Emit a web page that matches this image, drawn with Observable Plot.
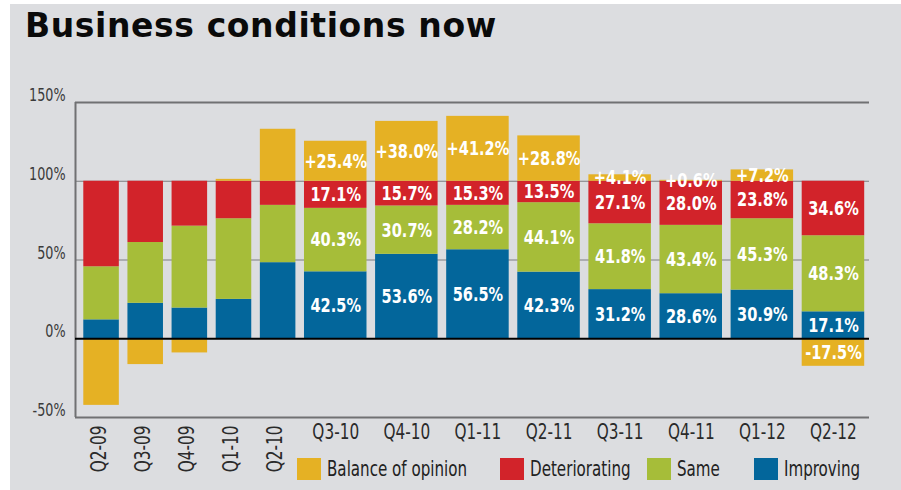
<!DOCTYPE html>
<html>
<head>
<meta charset="utf-8">
<script src="https://cdn.jsdelivr.net/npm/d3@7"></script>
<script src="https://cdn.jsdelivr.net/npm/@observablehq/plot@0.6"></script>
<style>
  html, body { margin: 0; padding: 0; background: #fff; }
  #wrap { position: relative; width: 901px; height: 490px; overflow: hidden; background: #fff; }
  #panel { position: absolute; left: 10px; top: 4px; right: 0; bottom: 0; background: #dcdde0; }
  #title { position: relative; height: 60px; }
  #title span { position: absolute; left: 25px; top: 9px; font-family: "DejaVu Sans", sans-serif; font-weight: bold; font-size: 33px; line-height: 33px; letter-spacing: 0.6px; color: #0a0a0a; white-space: nowrap; }
  #chart { position: relative; }
  #legend { position: absolute; left: 0; top: 458px; width: 901px; height: 24px; }
  .item { position: absolute; top: 0; display: flex; align-items: center; height: 22px; }
  .sw { width: 24px; height: 22px; margin-right: 6px; flex: none; }
  .lab { display: inline-block; font-family: "DejaVu Sans Condensed", "DejaVu Sans", sans-serif; font-size: 21px; color: #222; white-space: nowrap; line-height: 22px; transform: scaleX(0.8); transform-origin: 0 50%; }
</style>
</head>
<body>
<div id="wrap">
  <div id="panel"></div>
  <div id="title"><span>Business conditions now</span></div>
  <div id="chart"></div>
  <div id="legend"></div>
</div>
<script>
// ---- data ----
const quarters = ["Q2-09","Q3-09","Q4-09","Q1-10","Q2-10","Q3-10","Q4-10","Q1-11","Q2-11","Q3-11","Q4-11","Q1-12","Q2-12"];
const improving     = [12.0, 22.5, 19.5, 25.0, 48.3, 42.5, 53.6, 56.5, 42.3, 31.2, 28.6, 30.9, 17.1];
const same          = [33.7, 38.6, 52.0, 51.2, 36.4, 40.3, 30.7, 28.2, 44.1, 41.8, 43.4, 45.3, 48.3];
const deteriorating = [54.3, 38.9, 28.5, 23.8, 15.3, 17.1, 15.7, 15.3, 13.5, 27.1, 28.0, 23.8, 34.6];
const balance       = [-42.3, -16.4, -9.0, 1.2, 33.0, 25.4, 38.0, 41.2, 28.8, 4.1, 0.6, 7.2, -17.5];
const labelled      = [false, false, false, false, false, true, true, true, true, true, true, true, true];
const series = ["Balance of opinion", "Deteriorating", "Same", "Improving"];
const colors = ["#e5b124", "#d2232a", "#a6bd39", "#03669b"];
const yTicks = [-50, 0, 50, 100, 150];

// ---- layout of the quarter slots (older quarters drawn narrower) ----
const LEAD = 4, NARROW = 44.2, WIDE = 71.2;
let pos = LEAD;
const slots = quarters.map((q, i) => {
  const w = labelled[i] ? WIDE : NARROW;
  const s = {q, x1: pos, x2: pos + w, xc: pos + w / 2, wide: labelled[i]};
  pos += w;
  return s;
});
const xMax = pos + 0.5;

// ---- segments ----
const segs = [];
quarters.forEach((q, i) => {
  const s = slots[i];
  const I = improving[i], S = same[i], D = deteriorating[i], B = balance[i];
  segs.push({...s, series: "Improving", y1: 0, y2: I, text: I.toFixed(1) + "%"});
  segs.push({...s, series: "Same", y1: I, y2: I + S, text: S.toFixed(1) + "%"});
  segs.push({...s, series: "Deteriorating", y1: I + S, y2: I + S + D, text: D.toFixed(1) + "%"});
  if (B >= 0) segs.push({...s, series: "Balance of opinion", y1: 100, y2: 100 + B, text: "+" + B.toFixed(1) + "%"});
  else segs.push({...s, series: "Balance of opinion", y1: 0, y2: B, text: B.toFixed(1) + "%"});
});
const labels = segs.filter(d => d.wide);

const CONDENSED = "DejaVu Sans Condensed, DejaVu Sans, sans-serif";

const chart = Plot.plot({
  width: 901,
  height: 430,
  marginLeft: 75,
  marginRight: 32,
  marginTop: 42,
  marginBottom: 73,
  style: {background: "transparent", overflow: "visible"},
  x: {type: "linear", domain: [0, xMax], axis: null},
  y: {domain: [-50, 150], axis: null},
  color: {domain: series, range: colors},
  marks: [
    Plot.ruleY([50, 100], {stroke: "#7d7e80", strokeWidth: 1.2}),
    Plot.rect(segs, {x1: "x1", x2: "x2", y1: "y1", y2: "y2", fill: "series", insetLeft: 4.3, insetRight: 4.3}),
    Plot.ruleY([150, -50], {stroke: "#707173", strokeWidth: 2}),
    Plot.ruleX([0], {stroke: "#707173", strokeWidth: 2}),
    Plot.ruleY([0], {stroke: "#000", strokeWidth: 2}),
    Plot.text(labels, {
      x: "xc", y: d => (d.y1 + d.y2) / 2, text: "text",
      fill: "white", fontSize: 20, fontWeight: "bold", fontFamily: CONDENSED,
      ariaLabel: "segment labels"
    }),
    Plot.axisY({
      ticks: yTicks, tickSize: 0, tickPadding: 10, tickFormat: d => d + "%",
      fontSize: 17.5, fontFamily: CONDENSED, fill: "#3a3a3a", dy: -7, label: null
    }),
    // x tick labels: horizontal for the wide slots
    Plot.text(slots.filter(d => d.wide), {
      x: "xc", frameAnchor: "bottom", text: "q", dy: 21,
      fontSize: 21, fontFamily: CONDENSED, fill: "#2a2a2a"
    }),
    // rotated for the narrow slots
    Plot.text(slots.filter(d => !d.wide), {
      x: "xc", frameAnchor: "bottom", text: "q", rotate: -90, textAnchor: "end", dx: 4, dy: 8,
      fontSize: 21, fontFamily: CONDENSED, fill: "#2a2a2a"
    })
  ]
});

// narrow the lettering (the reference uses a very condensed face)
chart.querySelectorAll("text").forEach(t => {
  const inSeg = t.closest('g[aria-label="segment labels"]');
  const k = inSeg ? 0.87 : 0.81;
  const tr = t.getAttribute("transform") || "";
  t.setAttribute("transform", tr + ` scale(${k},1)`);
});
document.getElementById("chart").appendChild(chart);

// ---- legend ----
const legendLeft = [297, 500, 647, 754];
const legend = document.getElementById("legend");
series.forEach((name, i) => {
  const item = document.createElement("div");
  item.className = "item";
  item.style.left = legendLeft[i] + "px";
  const sw = document.createElement("div");
  sw.className = "sw";
  sw.style.background = colors[i];
  const lab = document.createElement("span");
  lab.className = "lab";
  lab.textContent = name;
  item.appendChild(sw);
  item.appendChild(lab);
  legend.appendChild(item);
});
</script>
</body>
</html>
